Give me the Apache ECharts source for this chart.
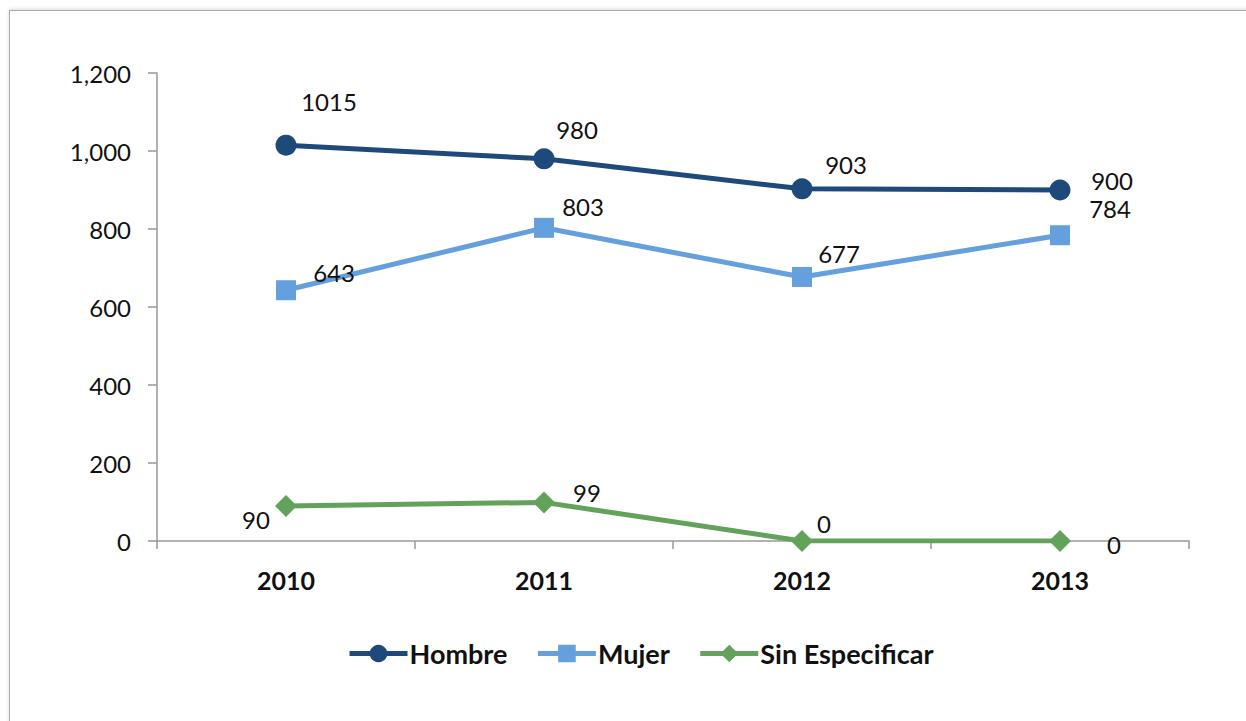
<!DOCTYPE html>
<html>
<head>
<meta charset="utf-8">
<script src="https://cdn.jsdelivr.net/npm/echarts@6/dist/echarts.min.js"></script>
<style>
  html, body { margin: 0; padding: 0; background: #fff; overflow: hidden; }
  #frame {
    position: absolute; left: 9px; top: 10px; width: 1300px; height: 800px;
    border: 1px solid #aaa; box-shadow: 0 -1px 4px rgba(0,0,0,0.15);
  }
  #chart { position: absolute; left: 0; top: 0; width: 1246px; height: 721px; }
</style>
</head>
<body>
<div id="frame"></div>
<div id="chart"></div>
<script>
(function() {
  var years = ['2010', '2011', '2012', '2013'];
  var hombre = [1015, 980, 903, 900];
  var mujer = [643, 803, 677, 784];
  var sinEsp = [90, 99, 0, 0];
  var yTicks = [0, 200, 400, 600, 800, 1000, 1200];

  // label offsets from each marker (how the labels sit in the original)
  var offHombre = [[43, -44], [33, -29], [44, -24], [52, -10]];
  var offMujer = [[48, -18], [39, -21], [37, -23], [50, -27]];
  var offSin = [[-30, 14], [43, -10], [22, -18], [54, 3]];

  var font = 'Lato, "Open Sans", sans-serif';

  function withLabels(values, offsets) {
    return values.map(function(v, i) {
      return { value: v, label: { offset: offsets[i] } };
    });
  }

  function series(name, values, offsets, color, symbol, size) {
    return {
      name: name,
      type: 'line',
      data: withLabels(values, offsets),
      symbol: symbol,
      symbolSize: size,
      lineStyle: { color: color, width: 5 },
      itemStyle: { color: color },
      label: {
        show: true, position: 'inside', color: '#111',
        fontFamily: font, fontSize: 24
      }
    };
  }

  var chart = echarts.init(document.getElementById('chart'), null, { renderer: 'svg' });
  chart.setOption({
    animation: false,
    textStyle: { fontFamily: font },
    grid: { left: 157, right: 57, top: 73, bottom: 180 },
    legend: {
      left: 342, top: 635,
      itemWidth: 58, itemHeight: 22, itemGap: 28,
      lineStyle: { width: 5 },
      textStyle: { fontFamily: font, fontSize: 27, fontWeight: 'bold', color: '#111', padding: [0, 0, 0, -3] },
      data: ['Hombre', 'Mujer', 'Sin Especificar']
    },
    xAxis: {
      type: 'category',
      data: years,
      boundaryGap: true,
      axisLine: { lineStyle: { color: '#999', width: 1.5 } },
      axisTick: { show: true, length: 8, lineStyle: { color: '#999', width: 1.5 } },
      axisLabel: { color: '#111', fontFamily: font, fontSize: 25, fontWeight: 'bold', margin: 26 }
    },
    yAxis: {
      type: 'value',
      min: yTicks[0], max: yTicks[yTicks.length - 1], interval: 200,
      axisLine: { show: true, lineStyle: { color: '#999', width: 1.5 } },
      axisTick: { show: true, length: 9, lineStyle: { color: '#999', width: 1.5 } },
      splitLine: { show: false },
      axisLabel: {
        color: '#111', fontFamily: font, fontSize: 24, margin: 26,
        formatter: function(v) { return v.toLocaleString('en-US'); }
      }
    },
    series: [
      series('Hombre', hombre, offHombre, '#1d4a7a', 'circle', 21),
      series('Mujer', mujer, offMujer, '#64a0dd', 'rect', 20),
      series('Sin Especificar', sinEsp, offSin, '#63a25a', 'diamond', 22)
    ]
  });
  window.addEventListener('resize', function() { chart.resize(); });
})();
</script>
</body>
</html>
